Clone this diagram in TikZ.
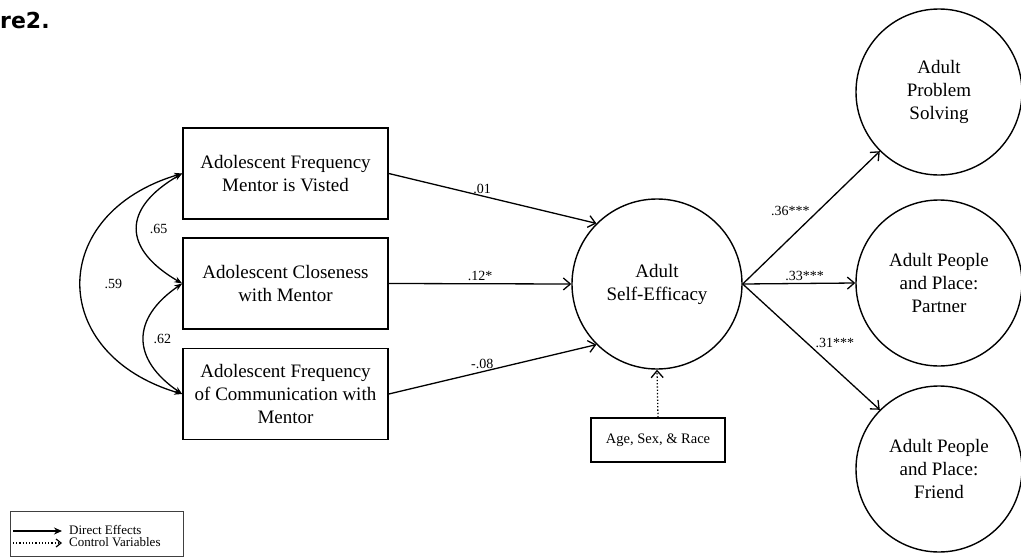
\documentclass[tikz,border=0pt]{standalone}
\usepackage{fontspec}
\setmainfont{Liberation Serif}
\newfontfamily\headfont{DejaVu Sans}
\usetikzlibrary{arrows.meta,positioning}

\tikzset{
  obs/.style={draw, line width=1.6pt, minimum width=205pt, minimum height=91pt, align=center, font=\rmfamily\fontsize{19}{23}\selectfont},
  lat/.style={draw, circle, line width=1.4pt, inner sep=0pt, align=center, font=\rmfamily\fontsize{19}{23}\selectfont},
  eff/.style={line width=1.3pt, -{Straight Barb[length=7pt,width=12pt,line width=1.3pt]}},
  ctl/.style={eff, dotted},
  cov/.style={line width=1.3pt, {Stealth[length=8pt,width=6pt]}-{Stealth[length=8pt,width=6pt]}},
  coef/.style={font=\rmfamily\fontsize{14}{16}\selectfont, inner sep=2pt},
  legtext/.style={font=\rmfamily\fontsize{13}{15}\selectfont, inner sep=1pt, anchor=west},
}

\begin{document}
\begin{tikzpicture}[x=1pt,y=-1pt]
\useasboundingbox (0,0) rectangle (1021,557);
\node[anchor=base west, inner sep=0pt, font=\headfont\bfseries\fontsize{22}{26}\selectfont] (fig) at (0,28) {re2.};

% observed predictors
\node[obs] (vis) at (285.5,173.5) {Adolescent Frequency\\Mentor is Visted};
\node[obs] (clo) at (285.5,283.5) {Adolescent Closeness\\with Mentor};
\node[obs] (com) at (285.5,394) {Adolescent Frequency\\of Communication with\\Mentor};

% latent variables
\node[lat, minimum size=170pt] (se) at (657,284) {Adult\\Self-Efficacy};
\node[draw, line width=1.3pt, minimum width=134pt, minimum height=44pt, font=\rmfamily\fontsize{14.5}{17}\selectfont] (ctrl) at (658,440) {Age, Sex, \& Race};
\node[lat, minimum size=166pt] (ps) at (939,92) {Adult\\Problem\\Solving};
\node[lat, minimum size=166pt] (pp) at (939,283) {Adult People\\and Place:\\Partner};
\node[lat, minimum size=166pt] (fr) at (939,469) {Adult People\\and Place:\\Friend};

% direct effects
\path
  (vis.east) edge[eff] node[coef, above, pos=0.45] {.01} (se.135)
  (clo.east) edge[eff] node[coef, above, pos=0.5] {.12*} (se.west)
  (com.east) edge[eff] node[coef, above, pos=0.45] {-.08} (se.225)
  (se.east) edge[eff] node[coef, above left, pos=0.5, inner sep=1pt] {.36***} (ps.225)
  (se.east) edge[eff] node[coef, above, pos=0.55] {.33***} (pp.west)
  (se.east) edge[eff] node[coef, above right, pos=0.52, inner sep=1pt] {.31***} (fr.135);
\draw[ctl] (ctrl.north) -- (se.south);

% correlations
\draw[cov] (vis.west) .. controls +(-60,35) and +(-60,-35) .. (clo.west) node[coef, midway, right=10pt] {.65};
\draw[cov] (clo.west) .. controls +(-51,35) and +(-51,-35) .. (com.west) node[coef, midway, right=7pt] {.62};
\draw[cov] (vis.west) .. controls +(-135,40) and +(-135,-40) .. (com.west) node[coef, midway, right=21pt] {.59};

% legend
\node[draw=black!75, line width=1pt, minimum width=173pt, minimum height=45pt] (leg) at (96.5,533.5) {};
\coordinate (d0) at (13,531);
\coordinate (d1) at (62,531);
\coordinate (c0) at (13,543);
\coordinate (c1) at (62,543);
\draw[line width=1.4pt, -{Stealth[length=8pt,width=7pt]}] (d0) -- (d1);
\draw[line width=1.2pt, dotted, -{Straight Barb[length=5pt,width=8pt,line width=1.2pt]}] (c0) -- (c1);
\node[legtext] (dlab) at (68,530) {Direct Effects};
\node[legtext] (clab) at (68,542.5) {Control Variables};
\end{tikzpicture}
\end{document}
